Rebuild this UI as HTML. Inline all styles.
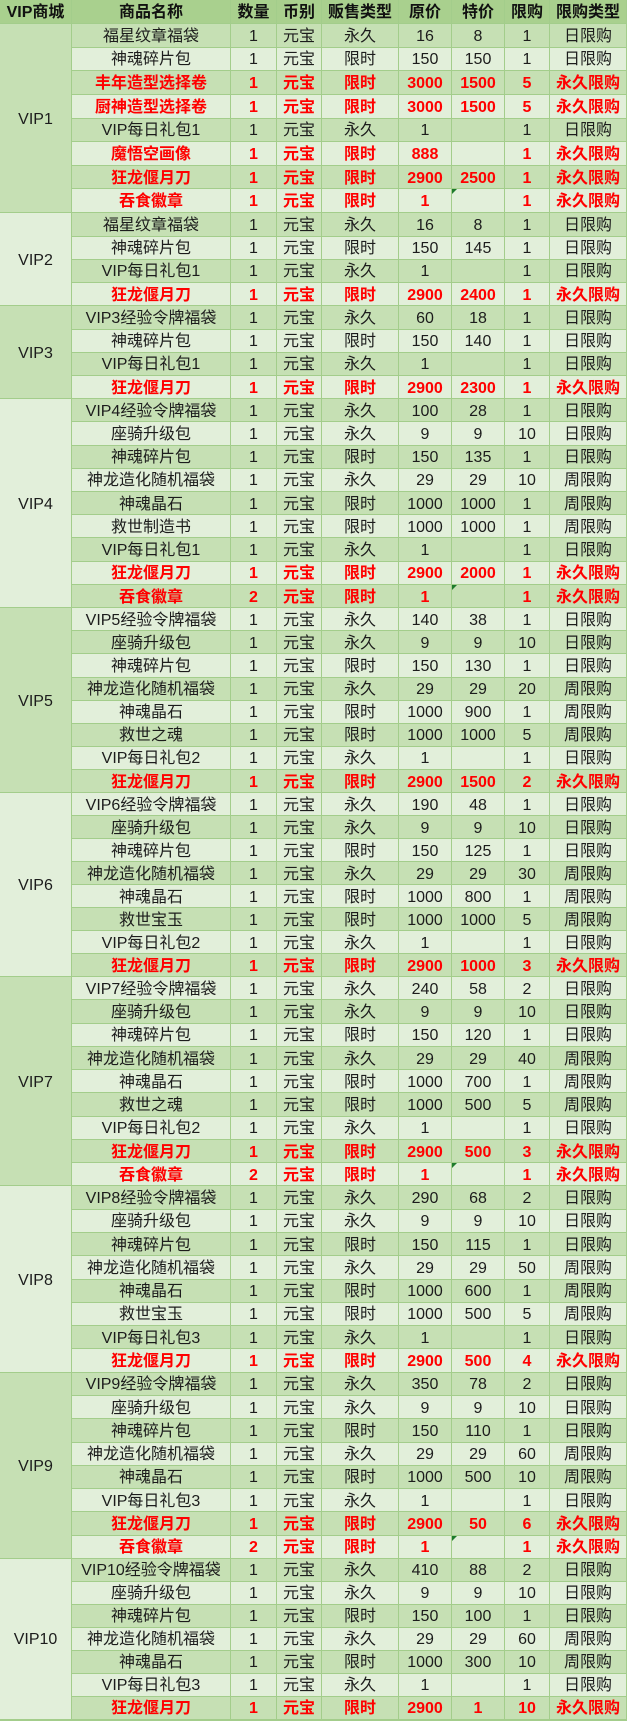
<!DOCTYPE html>
<html><head><meta charset="utf-8">
<style>
html,body{margin:0;padding:0;background:#a3cd8b;}
body{width:627px;height:1721px;overflow:hidden;}
.g{display:grid;width:627px;
grid-template-columns:72px 159px 46px 45px 77px 53px 53px 45px 77px;
grid-template-rows:24px repeat(9,23.63px) repeat(16,23.225px) repeat(8,23.125px) repeat(9,23.044px) repeat(8,23.25px) repeat(16,23.29px) repeat(7,22.96px);
font-family:"Liberation Sans","Noto Sans CJK SC","Microsoft YaHei",sans-serif;font-size:16px;color:#1c1c1c;}
.g div{box-sizing:border-box;border-right:1px solid #a3cd8b;border-bottom:1px solid #a3cd8b;display:flex;align-items:center;justify-content:center;white-space:nowrap;overflow:hidden;position:relative;line-height:1;padding-top:3px;}
.g .w{display:contents;}
.h div{background:#a9d08e;font-weight:bold;color:#111;}
.d div{background:#c6e0b4;}
.l div{background:#e2efda;}
.v{grid-row:span 8;}
.v4{grid-row:span 4;}
.v9{grid-row:span 9;}
.v7{grid-row:span 7;}
.vd{background:#c6e0b4 !important;}
.vl{background:#e2efda !important;}
.r div{color:#ff0000;font-weight:bold;}
.t::before{content:"";position:absolute;left:0;top:0;width:0;height:0;border-top:5px solid #1e7b2c;border-right:5px solid transparent;}
</style></head><body>
<div class="g">
<div class="w h"><div>VIP商城</div><div>商品名称</div><div>数量</div><div>币别</div><div>贩售类型</div><div>原价</div><div>特价</div><div>限购</div><div>限购类型</div></div>

<div class="v vd">VIP1</div>
<div class="w d"><div>福星纹章福袋</div><div>1</div><div>元宝</div><div>永久</div><div>16</div><div>8</div><div>1</div><div>日限购</div></div>
<div class="w l"><div>神魂碎片包</div><div>1</div><div>元宝</div><div>限时</div><div>150</div><div>150</div><div>1</div><div>日限购</div></div>
<div class="w d r"><div>丰年造型选择卷</div><div>1</div><div>元宝</div><div>限时</div><div>3000</div><div>1500</div><div>5</div><div>永久限购</div></div>
<div class="w l r"><div>厨神造型选择卷</div><div>1</div><div>元宝</div><div>限时</div><div>3000</div><div>1500</div><div>5</div><div>永久限购</div></div>
<div class="w d"><div>VIP每日礼包1</div><div>1</div><div>元宝</div><div>永久</div><div>1</div><div></div><div>1</div><div>日限购</div></div>
<div class="w l r"><div>魔悟空画像</div><div>1</div><div>元宝</div><div>限时</div><div>888</div><div></div><div>1</div><div>永久限购</div></div>
<div class="w d r"><div>狂龙偃月刀</div><div>1</div><div>元宝</div><div>限时</div><div>2900</div><div>2500</div><div>1</div><div>永久限购</div></div>
<div class="w l r"><div>吞食徽章</div><div>1</div><div>元宝</div><div>限时</div><div>1</div><div class="t"></div><div>1</div><div>永久限购</div></div>

<div class="v4 vl">VIP2</div>
<div class="w d"><div>福星纹章福袋</div><div>1</div><div>元宝</div><div>永久</div><div>16</div><div>8</div><div>1</div><div>日限购</div></div>
<div class="w l"><div>神魂碎片包</div><div>1</div><div>元宝</div><div>限时</div><div>150</div><div>145</div><div>1</div><div>日限购</div></div>
<div class="w d"><div>VIP每日礼包1</div><div>1</div><div>元宝</div><div>永久</div><div>1</div><div></div><div>1</div><div>日限购</div></div>
<div class="w l r"><div>狂龙偃月刀</div><div>1</div><div>元宝</div><div>限时</div><div>2900</div><div>2400</div><div>1</div><div>永久限购</div></div>

<div class="v4 vd">VIP3</div>
<div class="w d"><div>VIP3经验令牌福袋</div><div>1</div><div>元宝</div><div>永久</div><div>60</div><div>18</div><div>1</div><div>日限购</div></div>
<div class="w l"><div>神魂碎片包</div><div>1</div><div>元宝</div><div>限时</div><div>150</div><div>140</div><div>1</div><div>日限购</div></div>
<div class="w d"><div>VIP每日礼包1</div><div>1</div><div>元宝</div><div>永久</div><div>1</div><div></div><div>1</div><div>日限购</div></div>
<div class="w l r"><div>狂龙偃月刀</div><div>1</div><div>元宝</div><div>限时</div><div>2900</div><div>2300</div><div>1</div><div>永久限购</div></div>

<div class="v9 vl">VIP4</div>
<div class="w d"><div>VIP4经验令牌福袋</div><div>1</div><div>元宝</div><div>永久</div><div>100</div><div>28</div><div>1</div><div>日限购</div></div>
<div class="w l"><div>座骑升级包</div><div>1</div><div>元宝</div><div>永久</div><div>9</div><div>9</div><div>10</div><div>日限购</div></div>
<div class="w d"><div>神魂碎片包</div><div>1</div><div>元宝</div><div>限时</div><div>150</div><div>135</div><div>1</div><div>日限购</div></div>
<div class="w l"><div>神龙造化随机福袋</div><div>1</div><div>元宝</div><div>永久</div><div>29</div><div>29</div><div>10</div><div>周限购</div></div>
<div class="w d"><div>神魂晶石</div><div>1</div><div>元宝</div><div>限时</div><div>1000</div><div>1000</div><div>1</div><div>周限购</div></div>
<div class="w l"><div>救世制造书</div><div>1</div><div>元宝</div><div>限时</div><div>1000</div><div>1000</div><div>1</div><div>周限购</div></div>
<div class="w d"><div>VIP每日礼包1</div><div>1</div><div>元宝</div><div>永久</div><div>1</div><div></div><div>1</div><div>日限购</div></div>
<div class="w l r"><div>狂龙偃月刀</div><div>1</div><div>元宝</div><div>限时</div><div>2900</div><div>2000</div><div>1</div><div>永久限购</div></div>
<div class="w d r"><div>吞食徽章</div><div>2</div><div>元宝</div><div>限时</div><div>1</div><div class="t"></div><div>1</div><div>永久限购</div></div>

<div class="v vd">VIP5</div>
<div class="w l"><div>VIP5经验令牌福袋</div><div>1</div><div>元宝</div><div>永久</div><div>140</div><div>38</div><div>1</div><div>日限购</div></div>
<div class="w d"><div>座骑升级包</div><div>1</div><div>元宝</div><div>永久</div><div>9</div><div>9</div><div>10</div><div>日限购</div></div>
<div class="w l"><div>神魂碎片包</div><div>1</div><div>元宝</div><div>限时</div><div>150</div><div>130</div><div>1</div><div>日限购</div></div>
<div class="w d"><div>神龙造化随机福袋</div><div>1</div><div>元宝</div><div>永久</div><div>29</div><div>29</div><div>20</div><div>周限购</div></div>
<div class="w l"><div>神魂晶石</div><div>1</div><div>元宝</div><div>限时</div><div>1000</div><div>900</div><div>1</div><div>周限购</div></div>
<div class="w d"><div>救世之魂</div><div>1</div><div>元宝</div><div>限时</div><div>1000</div><div>1000</div><div>5</div><div>周限购</div></div>
<div class="w l"><div>VIP每日礼包2</div><div>1</div><div>元宝</div><div>永久</div><div>1</div><div></div><div>1</div><div>日限购</div></div>
<div class="w d r"><div>狂龙偃月刀</div><div>1</div><div>元宝</div><div>限时</div><div>2900</div><div>1500</div><div>2</div><div>永久限购</div></div>

<div class="v vl">VIP6</div>
<div class="w l"><div>VIP6经验令牌福袋</div><div>1</div><div>元宝</div><div>永久</div><div>190</div><div>48</div><div>1</div><div>日限购</div></div>
<div class="w d"><div>座骑升级包</div><div>1</div><div>元宝</div><div>永久</div><div>9</div><div>9</div><div>10</div><div>日限购</div></div>
<div class="w l"><div>神魂碎片包</div><div>1</div><div>元宝</div><div>限时</div><div>150</div><div>125</div><div>1</div><div>日限购</div></div>
<div class="w d"><div>神龙造化随机福袋</div><div>1</div><div>元宝</div><div>永久</div><div>29</div><div>29</div><div>30</div><div>周限购</div></div>
<div class="w l"><div>神魂晶石</div><div>1</div><div>元宝</div><div>限时</div><div>1000</div><div>800</div><div>1</div><div>周限购</div></div>
<div class="w d"><div>救世宝玉</div><div>1</div><div>元宝</div><div>限时</div><div>1000</div><div>1000</div><div>5</div><div>周限购</div></div>
<div class="w l"><div>VIP每日礼包2</div><div>1</div><div>元宝</div><div>永久</div><div>1</div><div></div><div>1</div><div>日限购</div></div>
<div class="w d r"><div>狂龙偃月刀</div><div>1</div><div>元宝</div><div>限时</div><div>2900</div><div>1000</div><div>3</div><div>永久限购</div></div>

<div class="v9 vd">VIP7</div>
<div class="w l"><div>VIP7经验令牌福袋</div><div>1</div><div>元宝</div><div>永久</div><div>240</div><div>58</div><div>2</div><div>日限购</div></div>
<div class="w d"><div>座骑升级包</div><div>1</div><div>元宝</div><div>永久</div><div>9</div><div>9</div><div>10</div><div>日限购</div></div>
<div class="w l"><div>神魂碎片包</div><div>1</div><div>元宝</div><div>限时</div><div>150</div><div>120</div><div>1</div><div>日限购</div></div>
<div class="w d"><div>神龙造化随机福袋</div><div>1</div><div>元宝</div><div>永久</div><div>29</div><div>29</div><div>40</div><div>周限购</div></div>
<div class="w l"><div>神魂晶石</div><div>1</div><div>元宝</div><div>限时</div><div>1000</div><div>700</div><div>1</div><div>周限购</div></div>
<div class="w d"><div>救世之魂</div><div>1</div><div>元宝</div><div>限时</div><div>1000</div><div>500</div><div>5</div><div>周限购</div></div>
<div class="w l"><div>VIP每日礼包2</div><div>1</div><div>元宝</div><div>永久</div><div>1</div><div></div><div>1</div><div>日限购</div></div>
<div class="w d r"><div>狂龙偃月刀</div><div>1</div><div>元宝</div><div>限时</div><div>2900</div><div>500</div><div>3</div><div>永久限购</div></div>
<div class="w l r"><div>吞食徽章</div><div>2</div><div>元宝</div><div>限时</div><div>1</div><div class="t"></div><div>1</div><div>永久限购</div></div>

<div class="v vl">VIP8</div>
<div class="w d"><div>VIP8经验令牌福袋</div><div>1</div><div>元宝</div><div>永久</div><div>290</div><div>68</div><div>2</div><div>日限购</div></div>
<div class="w l"><div>座骑升级包</div><div>1</div><div>元宝</div><div>永久</div><div>9</div><div>9</div><div>10</div><div>日限购</div></div>
<div class="w d"><div>神魂碎片包</div><div>1</div><div>元宝</div><div>限时</div><div>150</div><div>115</div><div>1</div><div>日限购</div></div>
<div class="w l"><div>神龙造化随机福袋</div><div>1</div><div>元宝</div><div>永久</div><div>29</div><div>29</div><div>50</div><div>周限购</div></div>
<div class="w d"><div>神魂晶石</div><div>1</div><div>元宝</div><div>限时</div><div>1000</div><div>600</div><div>1</div><div>周限购</div></div>
<div class="w l"><div>救世宝玉</div><div>1</div><div>元宝</div><div>限时</div><div>1000</div><div>500</div><div>5</div><div>周限购</div></div>
<div class="w d"><div>VIP每日礼包3</div><div>1</div><div>元宝</div><div>永久</div><div>1</div><div></div><div>1</div><div>日限购</div></div>
<div class="w l r"><div>狂龙偃月刀</div><div>1</div><div>元宝</div><div>限时</div><div>2900</div><div>500</div><div>4</div><div>永久限购</div></div>

<div class="v vd">VIP9</div>
<div class="w d"><div>VIP9经验令牌福袋</div><div>1</div><div>元宝</div><div>永久</div><div>350</div><div>78</div><div>2</div><div>日限购</div></div>
<div class="w l"><div>座骑升级包</div><div>1</div><div>元宝</div><div>永久</div><div>9</div><div>9</div><div>10</div><div>日限购</div></div>
<div class="w d"><div>神魂碎片包</div><div>1</div><div>元宝</div><div>限时</div><div>150</div><div>110</div><div>1</div><div>日限购</div></div>
<div class="w l"><div>神龙造化随机福袋</div><div>1</div><div>元宝</div><div>永久</div><div>29</div><div>29</div><div>60</div><div>周限购</div></div>
<div class="w d"><div>神魂晶石</div><div>1</div><div>元宝</div><div>限时</div><div>1000</div><div>500</div><div>10</div><div>周限购</div></div>
<div class="w l"><div>VIP每日礼包3</div><div>1</div><div>元宝</div><div>永久</div><div>1</div><div></div><div>1</div><div>日限购</div></div>
<div class="w d r"><div>狂龙偃月刀</div><div>1</div><div>元宝</div><div>限时</div><div>2900</div><div>50</div><div>6</div><div>永久限购</div></div>
<div class="w l r"><div>吞食徽章</div><div>2</div><div>元宝</div><div>限时</div><div>1</div><div class="t"></div><div>1</div><div>永久限购</div></div>

<div class="v7 vl">VIP10</div>
<div class="w d"><div>VIP10经验令牌福袋</div><div>1</div><div>元宝</div><div>永久</div><div>410</div><div>88</div><div>2</div><div>日限购</div></div>
<div class="w l"><div>座骑升级包</div><div>1</div><div>元宝</div><div>永久</div><div>9</div><div>9</div><div>10</div><div>日限购</div></div>
<div class="w d"><div>神魂碎片包</div><div>1</div><div>元宝</div><div>限时</div><div>150</div><div>100</div><div>1</div><div>日限购</div></div>
<div class="w l"><div>神龙造化随机福袋</div><div>1</div><div>元宝</div><div>永久</div><div>29</div><div>29</div><div>60</div><div>周限购</div></div>
<div class="w d"><div>神魂晶石</div><div>1</div><div>元宝</div><div>限时</div><div>1000</div><div>300</div><div>10</div><div>周限购</div></div>
<div class="w l"><div>VIP每日礼包3</div><div>1</div><div>元宝</div><div>永久</div><div>1</div><div></div><div>1</div><div>日限购</div></div>
<div class="w d r"><div>狂龙偃月刀</div><div>1</div><div>元宝</div><div>限时</div><div>2900</div><div>1</div><div>10</div><div>永久限购</div></div>
</div>
</body></html>
